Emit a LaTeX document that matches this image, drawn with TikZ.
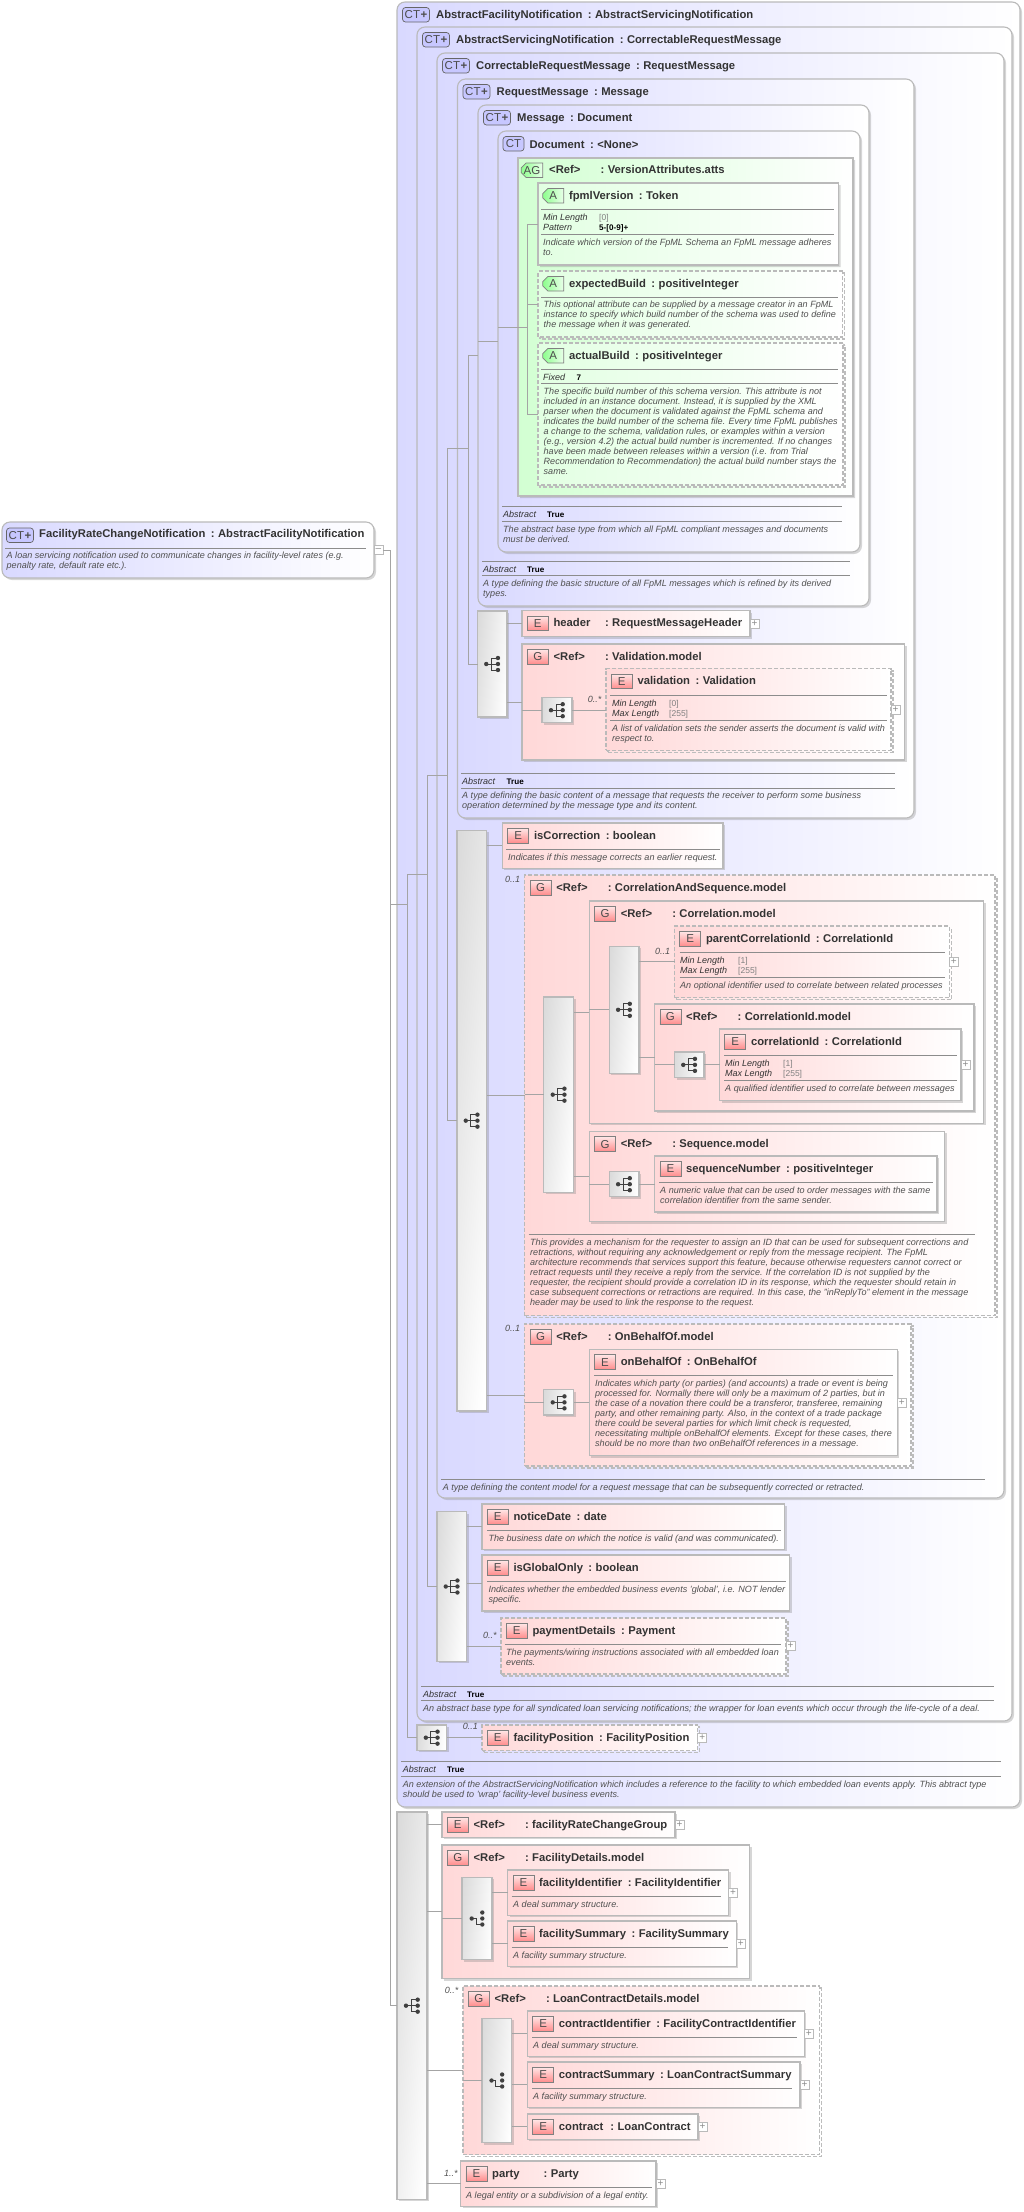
\documentclass[tikz,border=0pt]{standalone}
\usepackage{fontspec}
\setmainfont{Liberation Sans}
\usetikzlibrary{shapes.misc,shadows}

\definecolor{ctfill}{HTML}{D9D9FF}
\definecolor{elfill}{HTML}{FFD8D8}
\definecolor{agfill}{HTML}{D2FFD2}
\definecolor{atfill}{HTML}{E2FFE2}
\definecolor{edgegray}{HTML}{BABABA}
\definecolor{connline}{HTML}{A4A4A4}
\definecolor{rulegray}{HTML}{8C8C8C}
\definecolor{txtdark}{HTML}{333333}
\definecolor{txtdesc}{HTML}{505050}

\tikzset{
  boxshadow/.style={drop shadow={shadow xshift=2pt,shadow yshift=-2pt,fill=gray,opacity=.32}},
  dashshadow/.style={preaction={draw=black!26,line width=1.3pt,dash pattern=on 4pt off 2pt,
    transform canvas={xshift=2pt,yshift=-2pt}}},
  optline/.style={dash pattern=on 4pt off 2pt},
  basebox/.style={rectangle,draw=edgegray,line width=1.1pt,inner sep=0pt,outer sep=0pt},
  ctbox/.style={basebox,boxshadow,rounded corners=8pt,left color=ctfill,right color=white},
  elbox/.style={basebox,boxshadow,left color=elfill,right color=white},
  eloptbox/.style={basebox,dashshadow,optline,left color=elfill,right color=white},
  cutbox/.style={chamfered rectangle,chamfered rectangle corners={north west,south west},
    chamfered rectangle xsep=5pt,chamfered rectangle ysep=7pt,draw=edgegray,line width=1.1pt,inner sep=0pt,outer sep=0pt},
  agbox/.style={cutbox,boxshadow,left color=agfill,right color=white},
  atbox/.style={cutbox,boxshadow,left color=atfill,right color=white},
  atoptbox/.style={cutbox,dashshadow,optline,left color=atfill,right color=white},
  seqbox/.style={basebox,boxshadow,left color=black!14,right color=white,shading angle=84},
  conn/.style={draw=connline,line width=.8pt},
  hrule/.style={draw=rulegray,line width=.8pt},
  iconbase/.style={draw=black!50,line width=.7pt,inner sep=0pt,outer sep=0pt,anchor=north west,
    minimum height=14.5pt,text=black!70,font=\fontsize{11.5}{11.5}\selectfont},
  elicon/.style={iconbase,rectangle,minimum width=21pt,bottom color=red!45,top color=red!10},
  cticon/.style={iconbase,rectangle,rounded corners=3pt,minimum width=27pt,fill=blue!22,draw=black!60},
  cticonb/.style={cticon,minimum width=21pt},
  aticon/.style={iconbase,chamfered rectangle,chamfered rectangle corners={north west,south west},
    chamfered rectangle xsep=2.5pt,chamfered rectangle ysep=2.5pt,minimum width=21pt,anchor=center,
    xshift=10.5pt,yshift=-7.25pt,left color=green!45,right color=green!8},
  titletxt/.style={anchor=base west,yshift=-4pt,inner sep=0pt,text=txtdark,font=\fontsize{11.25}{12}\selectfont\bfseries},
  desctxt/.style={anchor=north west,inner sep=0pt,align=left,text=txtdesc,font=\fontsize{9.05}{10.1}\selectfont\itshape},
  occtxt/.style={anchor=base west,yshift=-3.2pt,inner sep=0pt,text=txtdesc,font=\fontsize{9}{10}\selectfont\itshape},
  labtxt/.style={anchor=base west,yshift=-3.2pt,inner sep=0pt,text=black!80,font=\fontsize{9}{10}\selectfont\itshape},
  boldtxt/.style={anchor=base west,yshift=-3pt,inner sep=0pt,text=black,font=\fontsize{8.1}{9}\selectfont\bfseries},
  valtxt/.style={anchor=base west,yshift=-3pt,inner sep=0pt,text=black!50,font=\fontsize{8.5}{9}\selectfont},
  plusbox/.style={draw=edgegray,fill=white,line width=.7pt,minimum size=9pt,inner sep=0pt,outer sep=0pt,
    anchor=west,text=black!45,font=\fontsize{10}{10}\selectfont}
}

\newlength\ttlw
\newcommand{\ttl}[2]{\settowidth{\ttlw}{#1}\ifdim\ttlw<46pt \setlength\ttlw{46pt}\fi
  \makebox[\ttlw][l]{#1}\hspace{5.5pt}:\hspace{3.4pt}#2}
% box as a node from its corners
\newcommand{\xbox}[6]{\node[#1,minimum width={(#5-#3)*1pt},minimum height={(#6-#4)*1pt}] (#2) at ({(#3+#5)/2},{(#4+#6)/2}) {};}
% icon and title of a box
\newcommand{\hdr}[7]{\node[#1] (#2i) at ({#4+5.3},{#5+5.5}) {#3};
  \node[titletxt] (#2t) at ({#4+31.4},{#5+12}) {\ttl{#6}{#7}};}
\newcommand{\cthdr}[5]{\node[cticon] (#1i) at ({#2+5.5},{#3+5.5}) {CT{\bfseries\kern.5pt+}};
  \node[titletxt] (#1t) at ({#2+39},{#3+12}) {\ttl{#4}{#5}};}
\newcommand{\hr}[3]{\draw[hrule] (#1,#3) -- (#2,#3);}
\newcommand{\desc}[4]{\node[desctxt] (#1) at ({#2},{#3-4}) {#4};}
% label and value in a row
\newcommand{\fct}[6]{\node[labtxt] (#1a) at (#2,#3) {#4};\node[valtxt] (#1b) at (#5,#3) {#6};}
\newcommand{\fctb}[6]{\node[labtxt] (#1a) at (#2,#3) {#4};\node[boldtxt] (#1b) at (#5,#3) {#6};}
\newcommand{\plusat}[1]{\node[plusbox] (#1p) at (#1.east) {+};}
\newcommand{\occ}[4]{\node[occtxt] (#1) at (#2,#3) {#4};}
% the symbol on a compositor
\newcommand{\seqicon}[1]{\begin{scope}[shift={(#1.center)}]
  \draw[black!75,line width=.9pt] (-6,0) -- (-1,0) (5.5,-6) -- (-1,-6) -- (-1,6) -- (5.5,6) (-1,0) -- (5.5,0);
  \fill[black!75] (-6,0) circle (2.2pt) (5.7,-6) circle (2.2pt) (5.7,0) circle (2.2pt) (5.7,6) circle (2.2pt);
  \end{scope}}
\newcommand{\allicon}[1]{\begin{scope}[shift={(#1.center)}]
  \draw[black!75,line width=.9pt] (-5.3,0) -- (-1,0) -- (-1,6) -- (5.3,6);
  \fill[black!75] (-5.3,0) circle (2.2pt) (5.3,-6) circle (2.2pt) (5.3,0) circle (2.2pt) (5.3,6) circle (2.2pt);
  \end{scope}}

\begin{document}
\begin{tikzpicture}[x=1pt,y=-1pt]
  \useasboundingbox (0,0) rectangle (1024,2212);

  % Draw the nested base types, outermost first
  \xbox{ctbox}{ctA}{397}{2}{1020}{1807}
  \cthdr{ctA}{397}{2}{AbstractFacilityNotification}{AbstractServicingNotification}
  \xbox{ctbox}{ctB}{417}{27}{1012}{1721}
  \cthdr{ctB}{417}{27}{AbstractServicingNotification}{CorrectableRequestMessage}
  \xbox{ctbox}{ctC}{437}{53}{1004}{1498}
  \cthdr{ctC}{437}{53}{CorrectableRequestMessage}{RequestMessage}
  \xbox{ctbox}{ctD}{457.5}{79}{914}{818}
  \cthdr{ctD}{457.5}{79}{RequestMessage}{Message}
  \xbox{ctbox}{ctE}{478}{105}{869}{606}
  \cthdr{ctE}{478}{105}{Message}{Document}
  \xbox{ctbox}{ctF}{498}{131}{860}{552}
  \node[cticonb] (ctFi) at (503,136.5) {CT};
  \node[titletxt] (ctFt) at (529.4,144) {\ttl{Document}{<None>}};

  % Draw the root element
  \xbox{ctbox}{root}{2}{522}{374}{578}
  \node[cticon] (rooti) at (6.5,528) {CT{\bfseries\kern.5pt+}};
  \node[titletxt] (roott) at (39,533) {\ttl{FacilityRateChangeNotification}{AbstractFacilityNotification}};
  \hr{5}{366}{548}
  \desc{rootd}{6.5}{556}{A loan servicing notification used to communicate changes in facility-level rates (e.g.\\penalty rate, default rate etc.).}
  \node[plusbox] (rootp) at (root.east) {--};

  % Draw the attribute group and its attributes
  \xbox{agbox}{ag}{518}{158}{853}{496}
  \node[aticon,minimum width=21pt] (agi) at (521.5,163) {AG};
  \node[titletxt] (agt) at (549,169.5) {\ttl{<Ref>}{VersionAttributes.atts}};

  \xbox{atbox}{atA}{538}{183}{838.5}{265}
  \hdr{aticon}{atA}{A}{537.5}{183}{fpmlVersion}{Token}
  \hr{541}{834}{209.3}
  \fct{atAm}{543}{217}{Min Length}{599}{[0]}
  \fctb{atAn}{543}{227}{Pattern}{599}{5-[0-9]+}
  \hr{541}{834}{234}
  \desc{atAd}{543}{242.3}{Indicate which version of the FpML Schema an FpML message adheres\\to.}

  \xbox{atoptbox}{atB}{538}{271}{842.5}{337}
  \hdr{aticon}{atB}{A}{537.5}{271}{expectedBuild}{positiveInteger}
  \hr{541}{838}{297.3}
  \desc{atBd}{543.5}{305}{This optional attribute can be supplied by a message creator in an FpML\\instance to specify which build number of the schema was used to define\\the message when it was generated.}

  \xbox{atoptbox}{atC}{538}{343}{843}{485}
  \hdr{aticon}{atC}{A}{537.5}{343}{actualBuild}{positiveInteger}
  \hr{541}{838}{369.3}
  \fctb{atCf}{543}{377}{Fixed}{576.5}{7}
  \hr{541}{838}{383.3}
  \desc{atCd}{543.5}{391.3}{The specific build number of this schema version. This attribute is not\\included in an instance document. Instead, it is supplied by the XML\\parser when the document is validated against the FpML schema and\\indicates the build number of the schema file. Every time FpML publishes\\a change to the schema, validation rules, or examples within a version\\(e.g., version 4.2) the actual build number is incremented. If no changes\\have been made between releases within a version (i.e. from Trial\\Recommendation to Recommendation) the actual build number stays the\\same.}

  % Draw the notes of Document and Message
  \hr{502}{842}{506.3}
  \fctb{ctFa}{503}{514}{Abstract}{547}{True}
  \hr{502}{842}{521.3}
  \desc{ctFd}{503}{529.3}{The abstract base type from which all FpML compliant messages and documents\\must be derived.}
  \hr{482.4}{850}{561.3}
  \fctb{ctEa}{483}{569}{Abstract}{527}{True}
  \hr{482.4}{850}{575.3}
  \desc{ctEd}{483}{583.3}{A type defining the basic structure of all FpML messages which is refined by its derived\\types.}

  % Draw the content of RequestMessage
  \xbox{seqbox}{seqD}{477.5}{611}{507}{717}
  \xbox{elbox}{header}{522}{610.7}{750}{636.7}
  \hdr{elicon}{header}{E}{522}{610.7}{header}{RequestMessageHeader}
  \plusat{header}
  \xbox{elbox}{gval}{522}{644}{904.6}{760}
  \hdr{elicon}{gval}{G}{522}{644}{<Ref>}{Validation.model}
  \xbox{seqbox}{seqVal}{542}{697.7}{572}{722.7}
  \xbox{eloptbox}{validation}{606}{668.7}{891}{750.3}
  \hdr{elicon}{validation}{E}{606}{668.7}{validation}{Validation}
  \occ{occVal}{587.6}{699}{0..*}
  \hr{610}{887}{695.3}
  \fct{valm}{612}{703.3}{Min Length}{669}{[0]}
  \fct{valx}{612}{713.3}{Max Length}{669}{[255]}
  \hr{610}{887}{720.3}
  \desc{vald}{612}{728.3}{A list of validation sets the sender asserts the document is valid with\\respect to.}
  \plusat{validation}

  \hr{461.4}{895}{773.3}
  \fctb{ctDa}{462}{781}{Abstract}{506.5}{True}
  \hr{461.4}{895}{788.3}
  \desc{ctDd}{462}{796}{A type defining the basic content of a message that requests the receiver to perform some business\\operation determined by the message type and its content.}

  % Draw the content of CorrectableRequestMessage
  \xbox{seqbox}{seqC}{457}{830.3}{486.5}{1411}
  \xbox{elbox}{isCorr}{502.4}{823}{723}{868.3}
  \hdr{elicon}{isCorr}{E}{502.4}{823}{isCorrection}{boolean}
  \hr{506.4}{719.5}{849.3}
  \desc{isCorrd}{508}{857.3}{Indicates if this message corrects an earlier request.}

  \xbox{eloptbox}{gcas}{524.7}{875}{995}{1315.7}
  \hdr{elicon}{gcas}{G}{524.7}{875}{<Ref>}{CorrelationAndSequence.model}
  \occ{occCas}{504.8}{879.3}{0..1}
  \xbox{seqbox}{seqCas}{543.8}{997}{573.7}{1192.3}

  \xbox{elbox}{gcor}{589.2}{901}{983.7}{1123.3}
  \hdr{elicon}{gcor}{G}{589.2}{901}{<Ref>}{Correlation.model}
  \xbox{seqbox}{seqCor}{609.2}{946.3}{639}{1073.3}
  \xbox{eloptbox}{parentId}{674.5}{926}{949.4}{997.7}
  \hdr{elicon}{parentId}{E}{674.5}{926}{parentCorrelationId}{CorrelationId}
  \occ{occPar}{655}{951}{0..1}
  \hr{679.7}{945}{952.3}
  \fct{parm}{680}{960.3}{Min Length}{738}{[1]}
  \fct{parx}{680}{970}{Max Length}{738}{[255]}
  \hr{679.7}{945}{977.7}
  \desc{pard}{680}{985.3}{An optional identifier used to correlate between related processes}
  \plusat{parentId}

  \xbox{elbox}{gcid}{654.6}{1004}{974}{1111}
  \hdr{elicon}{gcid}{G}{654.6}{1004}{<Ref>}{CorrelationId.model}
  \xbox{seqbox}{seqCid}{674.5}{1052}{704}{1077.7}
  \xbox{elbox}{corrId}{719.5}{1029}{961}{1100.7}
  \hdr{elicon}{corrId}{E}{719.5}{1029}{correlationId}{CorrelationId}
  \hr{724}{957}{1055.3}
  \fct{corm}{725}{1063.3}{Min Length}{783}{[1]}
  \fct{corx}{725}{1073}{Max Length}{783}{[255]}
  \hr{724}{957}{1080.7}
  \desc{cord}{725}{1088.3}{A qualified identifier used to correlate between messages}
  \plusat{corrId}

  \xbox{elbox}{gsq}{589.2}{1131.3}{944.6}{1221.7}
  \hdr{elicon}{gsq}{G}{589.2}{1131.3}{<Ref>}{Sequence.model}
  \xbox{seqbox}{seqSq}{609.2}{1171.7}{639}{1196.7}
  \xbox{elbox}{seqNum}{654.6}{1156}{937}{1212}
  \hdr{elicon}{seqNum}{E}{654.6}{1156}{sequenceNumber}{positiveInteger}
  \hr{659}{932.7}{1182.3}
  \desc{seqNumd}{660}{1190.3}{A numeric value that can be used to order messages with the same\\correlation identifier from the same sender.}

  \hr{528.7}{975}{1234.3}
  \desc{gcasd}{530}{1242.3}{This provides a mechanism for the requester to assign an ID that can be used for subsequent corrections and\\retractions, without requiring any acknowledgement or reply from the message recipient. The FpML\\architecture recommends that services support this feature, because otherwise requesters cannot correct or\\retract requests until they receive a reply from the service. If the correlation ID is not supplied by the\\requester, the recipient should provide a correlation ID in its response, which the requester should retain in\\case subsequent corrections or retractions are required. In this case, the "inReplyTo" element in the message\\header may be used to link the response to the request.}

  \xbox{eloptbox}{gobo}{524.7}{1324}{911}{1466}
  \hdr{elicon}{gobo}{G}{524.7}{1324}{<Ref>}{OnBehalfOf.model}
  \occ{occObo}{504.8}{1328.3}{0..1}
  \xbox{seqbox}{seqObo}{543.8}{1389.7}{573.7}{1415}
  \xbox{elbox}{onBehalf}{589.2}{1349.3}{897.2}{1455.7}
  \hdr{elicon}{onBehalf}{E}{589.2}{1349.3}{onBehalfOf}{OnBehalfOf}
  \hr{594}{893}{1375}
  \desc{onBehalfd}{595}{1383.3}{Indicates which party (or parties) (and accounts) a trade or event is being\\processed for. Normally there will only be a maximum of 2 parties, but in\\the case of a novation there could be a transferor, transferee, remaining\\party, and other remaining party. Also, in the context of a trade package\\there could be several parties for which limit check is requested,\\necessitating multiple onBehalfOf elements. Except for these cases, there\\should be no more than two onBehalfOf references in a message.}
  \plusat{onBehalf}

  \hr{441.4}{985}{1479.3}
  \desc{ctCd}{442.6}{1487.3}{A type defining the content model for a request message that can be subsequently corrected or retracted.}

  % Draw the content of AbstractServicingNotification
  \xbox{seqbox}{seqB}{437}{1511.7}{466.5}{1661.3}
  \xbox{elbox}{notice}{482}{1504}{784.5}{1549.3}
  \hdr{elicon}{notice}{E}{482}{1504}{noticeDate}{date}
  \hr{487}{780.5}{1530.3}
  \desc{noticed}{488.4}{1538.3}{The business date on which the notice is valid (and was communicated).}
  \xbox{elbox}{isGlobal}{482}{1555}{789.6}{1611}
  \hdr{elicon}{isGlobal}{E}{482}{1555}{isGlobalOnly}{boolean}
  \hr{487}{785.7}{1581.3}
  \desc{isGlobald}{488.4}{1589.3}{Indicates whether the embedded business events 'global', i.e. NOT lender\\specific.}
  \xbox{eloptbox}{payment}{501}{1618}{786}{1674}
  \hdr{elicon}{payment}{E}{501}{1618}{paymentDetails}{Payment}
  \occ{occPay}{483}{1635}{0..*}
  \hr{504.7}{781}{1644.3}
  \desc{paymentd}{506}{1652.3}{The payments/wiring instructions associated with all embedded loan\\events.}
  \plusat{payment}

  \hr{421}{993.6}{1686.3}
  \fctb{ctBa}{422.8}{1694}{Abstract}{467}{True}
  \hr{421}{993.6}{1700.3}
  \desc{ctBd}{422.8}{1708.3}{An abstract base type for all syndicated loan servicing notifications; the wrapper for loan events which occur through the life-cycle of a deal.}

  % Draw the content of AbstractFacilityNotification
  \xbox{seqbox}{seqA}{417}{1725}{446.7}{1750.3}
  \xbox{eloptbox}{position}{482}{1725}{697.7}{1750.3}
  \hdr{elicon}{position}{E}{482}{1725}{facilityPosition}{FacilityPosition}
  \occ{occPos}{462.7}{1726.7}{0..1}
  \plusat{position}
  \hr{401.4}{1001.4}{1761.3}
  \fctb{ctAa}{402.6}{1769}{Abstract}{447}{True}
  \hr{401.4}{1001.4}{1776.3}
  \desc{ctAd}{402.6}{1784.3}{An extension of the AbstractServicingNotification which includes a reference to the facility to which embedded loan events apply. This abtract type\\should be used to 'wrap' facility-level business events.}

  % Draw the content of the root element
  \xbox{seqbox}{seqR}{397}{1812}{427}{2199.3}
  \xbox{elbox}{rateGroup}{442}{1812}{675}{1837.3}
  \hdr{elicon}{rateGroup}{E}{442}{1812}{<Ref>}{facilityRateChangeGroup}
  \plusat{rateGroup}

  \xbox{elbox}{gfac}{442}{1845}{749.5}{1978.7}
  \hdr{elicon}{gfac}{G}{442}{1845}{<Ref>}{FacilityDetails.model}
  \xbox{seqbox}{seqFac}{462}{1877.3}{492}{1959.7}
  \xbox{elbox}{facId}{507.6}{1870}{728.6}{1915.3}
  \hdr{elicon}{facId}{E}{507.6}{1870}{facilityIdentifier}{FacilityIdentifier}
  \hr{511.7}{720.7}{1896.3}
  \desc{facIdd}{513}{1904.3}{A deal summary structure.}
  \plusat{facId}
  \xbox{elbox}{facSum}{507.6}{1921}{736.4}{1966.3}
  \hdr{elicon}{facSum}{E}{507.6}{1921}{facilitySummary}{FacilitySummary}
  \hr{511.7}{728}{1947.3}
  \desc{facSumd}{513}{1955.3}{A facility summary structure.}
  \plusat{facSum}

  \xbox{eloptbox}{gloan}{463}{1986}{819.5}{2154.3}
  \hdr{elicon}{gloan}{G}{463}{1986}{<Ref>}{LoanContractDetails.model}
  \occ{occLoan}{444.6}{1990.3}{0..*}
  \xbox{seqbox}{seqLoan}{482}{2018.3}{511.7}{2142.7}
  \xbox{elbox}{conId}{527.3}{2011}{804.3}{2056.3}
  \hdr{elicon}{conId}{E}{527.3}{2011}{contractIdentifier}{FacilityContractIdentifier}
  \hr{532}{796.5}{2037}
  \desc{conIdd}{533}{2045.3}{A deal summary structure.}
  \plusat{conId}
  \xbox{elbox}{conSum}{527.3}{2062}{800}{2107.3}
  \hdr{elicon}{conSum}{E}{527.3}{2062}{contractSummary}{LoanContractSummary}
  \hr{532}{792}{2088.3}
  \desc{conSumd}{533}{2096.3}{A facility summary structure.}
  \plusat{conSum}
  \xbox{elbox}{contract}{527.3}{2114}{698}{2139.3}
  \hdr{elicon}{contract}{E}{527.3}{2114}{contract}{LoanContract}
  \plusat{contract}

  \xbox{elbox}{party}{460.6}{2161}{656}{2206.3}
  \hdr{elicon}{party}{E}{460.6}{2161}{party}{Party}
  \occ{occParty}{443.8}{2173}{1..*}
  \hr{465}{652}{2187.3}
  \desc{partyd}{466}{2195.3}{A legal entity or a subdivision of a legal entity.}
  \plusat{party}

  % Draw the symbols on the compositors
  \seqicon{seqD} \seqicon{seqVal} \seqicon{seqC} \seqicon{seqCas} \seqicon{seqCor}
  \seqicon{seqCid} \seqicon{seqSq} \seqicon{seqObo} \seqicon{seqB} \seqicon{seqA} \seqicon{seqR}
  \allicon{seqFac} \allicon{seqLoan}

  % Draw the connectors
  \coordinate (bus0) at (390,550);
  \coordinate (bus1) at (407,874);
  \coordinate (bus2) at (427,775.5);
  \coordinate (bus3) at (447,448.5);
  \coordinate (bus4) at (468,355.5);
  \coordinate (bus5) at (527.5,224);

  \draw[conn] (rootp.east) -- (bus0) |- (seqR.west);
  \draw[conn] (bus0 |- ctA.west) -- (bus1 |- ctA.west);
  \draw[conn] (bus1 -| ctB.west) -- (bus1) |- (seqA.west);
  \draw[conn] (bus2 |- bus1) -- (ctB.west |- bus1);
  \draw[conn] (bus2 -| ctC.west) -- (bus2) |- (seqB.west);
  \draw[conn] (bus3 |- bus2) -- (ctC.west |- bus2);
  \draw[conn] (bus3 -| ctD.west) -- (bus3) |- (seqC.west);
  \draw[conn] (bus4 |- bus3) -- (ctD.west |- bus3);
  \draw[conn] (bus4 -| ctE.west) -- (bus4) |- (seqD.west);
  \draw[conn] (ctE.west |- ctF.west) -- (ctF.west);
  \draw[conn] (ctF.west |- ag.west) -- (bus5 |- ag.west);
  \draw[conn] (atA.west) -- (bus5) |- (atC.west);
  \draw[conn] (bus5 |- atB.west) -- (atB.west);

  \draw[conn] (seqD.east |- header.west) -- (header.west);
  \draw[conn] (seqD.east |- gval.west) -- (gval.west);
  \draw[conn] (gval.west |- seqVal.west) -- (seqVal.west);
  \draw[conn] (seqVal.east) -- (seqVal.east -| validation.west);

  \draw[conn] (seqC.east |- isCorr.west) -- (isCorr.west);
  \draw[conn] (seqC.east |- gcas.west) -- (gcas.west);
  \draw[conn] (seqC.east |- gobo.west) -- (gobo.west);
  \draw[conn] (gcas.west |- seqCas.west) -- (seqCas.west);
  \draw[conn] (seqCas.east |- gcor.west) -- (gcor.west);
  \draw[conn] (seqCas.east |- gsq.west) -- (gsq.west);
  \draw[conn] (gcor.west |- seqCor.west) -- (seqCor.west);
  \draw[conn] (seqCor.east |- parentId.west) -- (parentId.west);
  \draw[conn] (seqCor.east |- gcid.west) -- (gcid.west);
  \draw[conn] (gcid.west |- seqCid.west) -- (seqCid.west);
  \draw[conn] (seqCid.east) -- (seqCid.east -| corrId.west);
  \draw[conn] (gsq.west |- seqSq.west) -- (seqSq.west);
  \draw[conn] (seqSq.east) -- (seqSq.east -| seqNum.west);
  \draw[conn] (gobo.west |- seqObo.west) -- (seqObo.west);
  \draw[conn] (seqObo.east) -- (seqObo.east -| onBehalf.west);

  \draw[conn] (seqB.east |- notice.west) -- (notice.west);
  \draw[conn] (seqB.east |- isGlobal.west) -- (isGlobal.west);
  \draw[conn] (seqB.east |- payment.west) -- (payment.west);
  \draw[conn] (seqA.east) -- (position.west);

  \draw[conn] (seqR.east |- rateGroup.west) -- (rateGroup.west);
  \draw[conn] (seqR.east |- gfac.west) -- (gfac.west);
  \draw[conn] (seqR.east |- gloan.west) -- (gloan.west);
  \draw[conn] (seqR.east |- party.west) -- (party.west);
  \draw[conn] (gfac.west |- seqFac.west) -- (seqFac.west);
  \draw[conn] (seqFac.east |- facId.west) -- (facId.west);
  \draw[conn] (seqFac.east |- facSum.west) -- (facSum.west);
  \draw[conn] (gloan.west |- seqLoan.west) -- (seqLoan.west);
  \draw[conn] (seqLoan.east |- conId.west) -- (conId.west);
  \draw[conn] (seqLoan.east |- conSum.west) -- (conSum.west);
  \draw[conn] (seqLoan.east |- contract.west) -- (contract.west);
\end{tikzpicture}
\end{document}
